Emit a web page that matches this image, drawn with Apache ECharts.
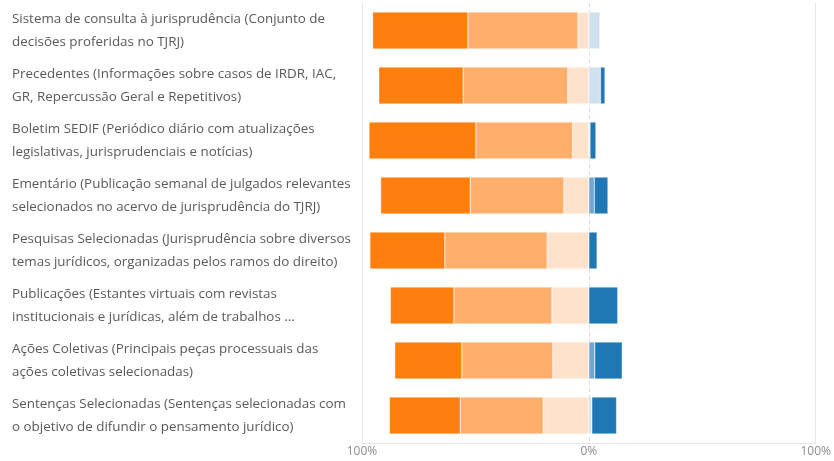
<!DOCTYPE html>
<html><head><meta charset="utf-8">
<script src="https://cdn.jsdelivr.net/npm/echarts@6/dist/echarts.min.js"></script>
<style>html,body{margin:0;padding:0;background:#fff}#c{width:834px;height:461px}</style>
</head><body><div id="c"></div>
<script>
const categories = [
  "Sistema de consulta à jurisprudência (Conjunto de\ndecisões proferidas no TJRJ)",
  "Precedentes (Informações sobre casos de IRDR, IAC,\nGR, Repercussão Geral e Repetitivos)",
  "Boletim SEDIF (Periódico diário com atualizações\nlegislativas, jurisprudenciais e notícias)",
  "Ementário (Publicação semanal de julgados relevantes\nselecionados no acervo de jurisprudência do TJRJ)",
  "Pesquisas Selecionadas (Jurisprudência sobre diversos\ntemas jurídicos, organizadas pelos ramos do direito)",
  "Publicações (Estantes virtuais com revistas\ninstitucionais e jurídicas, além de trabalhos ...",
  "Ações Coletivas (Principais peças processuais das\nações coletivas selecionadas)",
  "Sentenças Selecionadas (Sentenças selecionadas com\no objetivo de difundir o pensamento jurídico)"
];
// percentages (negative side values stored as positive magnitudes)
const darkOrange  = [42.0, 37.2, 47.1, 39.5, 33.1, 28.1, 29.6, 31.2];
const lightOrange = [48.5, 46.1, 42.6, 41.3, 45.1, 43.2, 40.1, 36.6];
const paleOrange  = [ 4.8,  9.3,  7.2, 11.0, 18.4, 16.3, 15.9, 20.1];
const paleBlue    = [ 5.0,  5.1,  0.5,  0.0,  0.0,  0.0,  0.0,  1.3];
const midBlue     = [ 0.0,  0.0,  0.0,  2.4,  0.0,  0.0,  2.6,  0.0];
const darkBlue    = [ 0.0,  2.0,  2.6,  6.0,  3.6, 12.7, 12.1, 10.9];
const tickLabels  = {"-100": "100%", "0": "0%", "100": "100%"};

const neg = a => a.map(v => -v);
const mk = (name, data, color) => ({
  name, type: 'bar', stack: 'total', data, barCategoryGap: '33%',
  itemStyle: {color, borderColor: 'rgba(255,255,255,0.6)', borderWidth: 0.5},
  emphasis: {disabled: true}, z: 3
});
const series = [
  mk('paleOrange', neg(paleOrange), '#ffe2cc'),
  mk('lightOrange', neg(lightOrange), '#ffaf6b'),
  mk('darkOrange', neg(darkOrange), '#ff7f0e'),
  mk('paleBlue', paleBlue, '#cfe1ef'),
  mk('midBlue', midBlue, '#6fa6d3'),
  mk('darkBlue', darkBlue, '#1f77b4'),
  {type: 'line', data: [], z: 1, markLine: {silent: true, symbol: 'none', label: {show: false},
    lineStyle: {color: '#e6e6e6', type: 'solid', width: 1},
    data: [{xAxis: -100}, {xAxis: 100}]}}
];
const chart = echarts.init(document.getElementById('c'), null, {renderer: 'canvas'});
chart.setOption({
  animation: false,
  grid: {left: 362, right: 14, top: 3, bottom: 18, containLabel: false},
  xAxis: {
    type: 'value', min: -100, max: 100, interval: 100,
    axisLine: {show: true, lineStyle: {color: '#e6e6e6'}},
    axisTick: {show: false},
    splitLine: {show: true, lineStyle: {color: '#dddddd', type: [4, 3]}},
    axisLabel: {color: '#8c8c8c', fontFamily: 'Open Sans', fontSize: 12, margin: 3,
      formatter: v => tickLabels[String(v)] || ''}
  },
  yAxis: {
    type: 'category', data: categories, inverse: true,
    axisLine: {show: false}, axisTick: {show: false}, splitLine: {show: false},
    axisLabel: {align: 'left', margin: 350, color: '#595959', fontFamily: 'Open Sans',
      fontSize: 13.4, lineHeight: 23}
  },
  series
});
</script></body></html>
